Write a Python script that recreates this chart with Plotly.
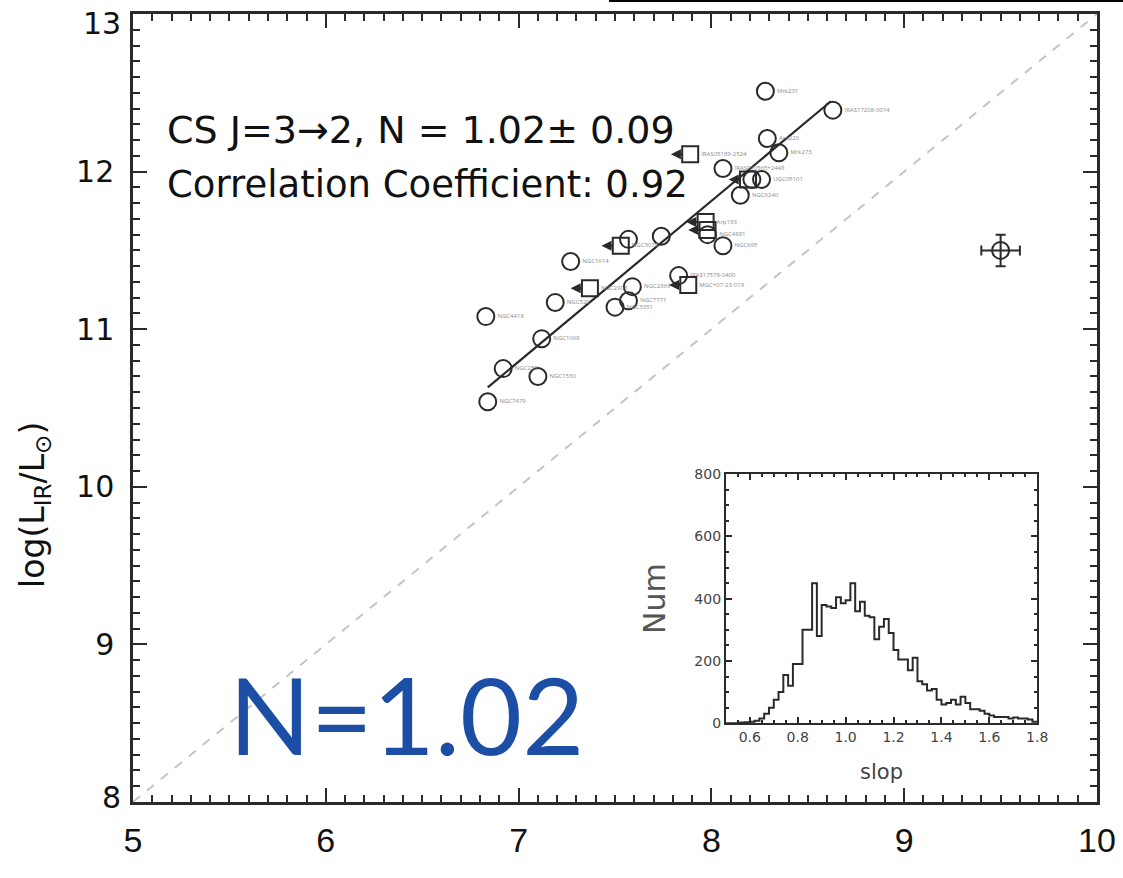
import plotly.graph_objects as go

# ---------------- data ----------------
circ_x = [8.28, 8.63, 8.29, 8.35, 8.06, 8.26, 8.21, 8.15, 7.74, 7.57, 7.98, 8.06,
          7.27, 7.59, 7.83, 7.57, 7.50, 7.19, 6.83, 7.12, 6.92, 7.10, 6.84]
circ_y = [12.51, 12.39, 12.21, 12.12, 12.02, 11.95, 11.95, 11.85, 11.59, 11.57, 11.60, 11.53,
          11.43, 11.27, 11.34, 11.18, 11.14, 11.17, 11.08, 10.94, 10.75, 10.70, 10.54]
circ_lab = ["Mrk231", "IRAS17208-0014", "Arp220", "Mrk273", "IRASF10565+2448", "UGC05101", "", "NGC6240",
            "", "", "NGC4881", "NGC695", "NGC1614", "NGC2369", "IRAS17578-0400", "NGC7771", "NGC3351",
            "NGC520", "NGC4418", "NGC1068", "NGC253", "NGC1530", "NGC7479"]

sq_x = [7.89, 8.19, 7.97, 7.98, 7.53, 7.37, 7.88]
sq_y = [12.11, 11.95, 11.68, 11.63, 11.53, 11.26, 11.28]
sq_lab = ["IRAS05189-2524", "", "Arp193", "", "NGC3079", "NGC2903", "MGC+07-23-019"]

fit_x = [6.84, 8.62]
fit_slope = 1.02
fit_icpt = 3.654
diag_x = [5, 10]
diag_off = 3.0

err_x, err_y, err_dx, err_dy = [9.50], [11.50], [0.10], [0.10]

hist_left = [0.50, 0.52, 0.54, 0.56, 0.58, 0.60, 0.62, 0.64, 0.66, 0.68, 0.70, 0.72, 0.74,
             0.76, 0.78, 0.80, 0.82, 0.84, 0.86, 0.88, 0.90, 0.92, 0.94, 0.96, 0.98, 1.00,
             1.02, 1.04, 1.06, 1.08, 1.10, 1.12, 1.14, 1.16, 1.18, 1.20, 1.22, 1.24, 1.26,
             1.28, 1.30, 1.32, 1.34, 1.36, 1.38, 1.40, 1.42, 1.44, 1.46, 1.48, 1.50, 1.52,
             1.54, 1.56, 1.58, 1.60, 1.62, 1.64, 1.66, 1.68, 1.70, 1.72, 1.74, 1.76, 1.78]
hist_cnt = [0, 0, 0, 2, 3, 5, 8, 15, 30, 50, 75, 100, 155,
            120, 190, 190, 300, 300, 450, 280, 380, 375, 370, 405, 385, 395,
            450, 360, 390, 345, 340, 270, 310, 335, 290, 235, 205, 205, 170,
            210, 135, 125, 105, 110, 75, 60, 65, 75, 60, 85, 65, 45,
            45, 40, 30, 25, 20, 20, 20, 15, 18, 15, 15, 12, 5]
hist_w = 0.02

main_xticks = [5, 6, 7, 8, 9, 10]
main_yticks = [8, 9, 10, 11, 12, 13]
main_ytext = ["8", "9", "10", "11", "12", "13"]
edge_ylabels = {13: -9, 8: 5}   # end labels nudged inward (as in the reference)
ins_xticks = [0.6, 0.8, 1.0, 1.2, 1.4, 1.6, 1.8]
ins_yticks = [0, 200, 400, 600, 800]

# ---------------- figure ----------------
INK = "#2a2a2a"
fig = go.Figure()

# diagonal y = x + 3
fig.add_trace(go.Scatter(x=diag_x, y=[v + diag_off for v in diag_x], mode="lines",
                         line=dict(color="#c4c4c4", width=2, dash="dash"), hoverinfo="skip"))
# fit line
fig.add_trace(go.Scatter(x=fit_x, y=[fit_slope * v + fit_icpt for v in fit_x], mode="lines",
                         line=dict(color=INK, width=2.2), hoverinfo="skip"))
# circles
fig.add_trace(go.Scatter(x=circ_x, y=circ_y, mode="markers+text", text=circ_lab,
                         textposition="middle right", textfont=dict(size=6, color="#8a8a8a"),
                         marker=dict(symbol="circle-open", size=17, color=INK, line=dict(width=2))))
# squares
fig.add_trace(go.Scatter(x=sq_x, y=sq_y, mode="markers+text", text=sq_lab,
                         textposition="middle right", textfont=dict(size=6, color="#8a8a8a"),
                         marker=dict(symbol="square-open", size=16, color=INK, line=dict(width=2))))
# arrows for upper limits
for xs, ys in zip(sq_x, sq_y):
    fig.add_annotation(x=xs - 0.10, y=ys, ax=xs - 0.035, ay=ys, xref="x", yref="y",
                       axref="x", ayref="y", showarrow=True, arrowhead=2, arrowsize=1,
                       arrowwidth=2, arrowcolor=INK, text="")
# error bar point
fig.add_trace(go.Scatter(x=err_x, y=err_y, mode="markers",
                         marker=dict(symbol="circle-open", size=17, color=INK, line=dict(width=2)),
                         error_x=dict(type="data", array=err_dx, color=INK, thickness=2, width=5),
                         error_y=dict(type="data", array=err_dy, color=INK, thickness=2, width=5)))

# inset histogram (step)
hx = [hist_left[0]] + [l + hist_w for l in hist_left]
hy = [hist_cnt[0]] + hist_cnt
fig.add_trace(go.Scatter(x=hx, y=hy, mode="lines", line=dict(shape="vh", color=INK, width=2),
                         xaxis="x2", yaxis="y2", hoverinfo="skip"))

axis_common = dict(showline=True, linecolor=INK, linewidth=2.5, mirror="allticks",
                   ticks="inside", tickcolor=INK, showgrid=False, zeroline=False, automargin=False,
                   ticklabeloverflow="allow")

YFONT = dict(family="DejaVu Sans", size=30, color="#111")
fig.update_layout(
    width=1123, height=878, showlegend=False,
    paper_bgcolor="white", plot_bgcolor="white",
    margin=dict(l=133, r=26, t=14, b=76, autoexpand=False),
    xaxis=dict(range=[5, 10], tickvals=main_xticks, ticklen=14, tickwidth=2,
               minor=dict(dtick=0.1, ticklen=7, tickwidth=1.5, ticks="inside", tickcolor=INK),
               tickfont=dict(family="Liberation Sans Narrow, Liberation Sans", size=34, color="#111"),
               ticklabelstandoff=6, **axis_common),
    yaxis=dict(range=[8, 13], tickvals=main_yticks,
               ticktext=["" if v in edge_ylabels else t for v, t in zip(main_yticks, main_ytext)],
               ticklen=14, tickwidth=2,
               minor=dict(dtick=0.1, ticklen=7, tickwidth=1.5, ticks="inside", tickcolor=INK),
               tickfont=YFONT, ticklabelstandoff=10, **axis_common),
    xaxis2=dict(domain=[0.615, 0.938], anchor="y2", range=[0.5, 1.8], tickvals=ins_xticks,
                tickformat=".1f", ticklen=6, tickwidth=1.5,
                minor=dict(dtick=0.05, ticklen=3, ticks="inside", tickcolor=INK),
                tickfont=dict(family="DejaVu Sans", size=14, color="#444"),
                title=dict(text="slop", font=dict(family="DejaVu Sans", size=21, color="#444"), standoff=20),
                showline=True, linecolor=INK, linewidth=2, mirror="allticks", automargin=False,
                ticks="inside", tickcolor=INK, showgrid=False, zeroline=False),
    yaxis2=dict(domain=[0.100, 0.416], anchor="x2", range=[0, 800], tickvals=ins_yticks,
                ticklen=6, tickwidth=1.5,
                minor=dict(dtick=50, ticklen=3, ticks="inside", tickcolor=INK),
                tickfont=dict(family="DejaVu Sans", size=14, color="#444"),
                title=dict(text="Num", font=dict(family="DejaVu Sans", size=30, color="#555"), standoff=20),
                showline=True, linecolor=INK, linewidth=2, mirror="allticks", automargin=False,
                ticks="inside", tickcolor=INK, showgrid=False, zeroline=False),
)

# end labels of the y axis, nudged inward
for v, t in zip(main_yticks, main_ytext):
    if v in edge_ylabels:
        fig.add_annotation(xref="paper", yref="y", x=0, y=v, xanchor="right", yanchor="middle",
                           xshift=-10, yshift=edge_ylabels[v], text=t, showarrow=False, font=YFONT)

# texts
fig.add_annotation(xref="paper", yref="paper", x=0.0332, y=0.853, xanchor="left", yanchor="middle",
                   text="CS J=3\u21922, N = 1.02\u00b1 0.09", showarrow=False,
                   font=dict(family="DejaVu Sans", size=38, color="#111"))
fig.add_annotation(xref="paper", yref="paper", x=0.0332, y=0.783, xanchor="left", yanchor="middle",
                   text="Correlation Coefficient: 0.92", showarrow=False,
                   font=dict(family="DejaVu Sans", size=37, color="#111"))
fig.add_annotation(xref="paper", yref="paper", x=0.098, y=0.112, xanchor="left", yanchor="middle",
                   text="N=1.02", showarrow=False,
                   font=dict(family="Lato", size=107, color="#1c4ea6"))
fig.add_annotation(xref="paper", yref="paper", x=-0.1017, y=0.377, xanchor="center", yanchor="middle",
                   text="log(L<sub>IR</sub>/L<sub>\u2299</sub>)", textangle=-90, showarrow=False,
                   font=dict(family="DejaVu Sans", size=33, color="#111"))

# thin black line at very top right
fig.add_shape(type="line", xref="paper", yref="paper", x0=(609 - 133) / 964, x1=1.03,
              y0=(802 - 1) / 788, y1=(802 - 1) / 788, line=dict(color="black", width=2))

fig.write_html("out.html", config={"displayModeBar": False},
               post_script="document.body.style.margin='0';")
